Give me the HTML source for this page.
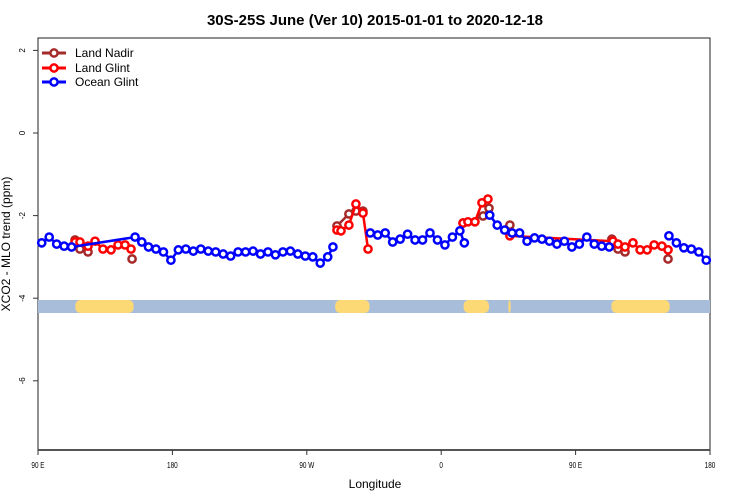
<!DOCTYPE html>
<html><head><meta charset="utf-8"><style>
html,body{margin:0;padding:0;background:#fff;}
svg{display:block;font-family:"Liberation Sans",sans-serif;}
</style></head><body>
<svg id="chart" width="750" height="500" viewBox="0 0 750 500">
<text x="375" y="25" text-anchor="middle" font-size="15" font-weight="bold">30S-25S June (Ver 10)   2015-01-01 to 2020-12-18</text>
<rect x="38" y="38" width="672" height="412" fill="none" stroke="#222" stroke-width="1"/>
<g id="surface"></g>
<g id="axes"></g>
<g id="series"></g>
<text x="375" y="488" text-anchor="middle" font-size="12">Longitude</text>
<text transform="translate(10,244) rotate(-90)" text-anchor="middle" font-size="12">XCO2 - MLO trend (ppm)</text>
<g>
 <g><line x1="42" y1="53" x2="66" y2="53" stroke="#a52a2a" stroke-width="3"/><circle cx="54" cy="53" r="3.6" fill="#fff" stroke="#a52a2a" stroke-width="2.5"/><text x="75" y="57" font-size="12">Land Nadir</text></g>
 <g><line x1="42" y1="68" x2="66" y2="68" stroke="#ff0000" stroke-width="3"/><circle cx="54" cy="68" r="3.6" fill="#fff" stroke="#ff0000" stroke-width="2.5"/><text x="75" y="72" font-size="12">Land Glint</text></g>
 <g><line x1="42" y1="82" x2="66" y2="82" stroke="#0000ff" stroke-width="3"/><circle cx="54" cy="82" r="3.6" fill="#fff" stroke="#0000ff" stroke-width="2.5"/><text x="75" y="86" font-size="12">Ocean Glint</text></g>
</g>
</svg>
<script>
// data
const xTickLons = [90, 180, 270, 360, 450, 540];
const xTickLabels = ["90 E", "180", "90 W", "0", "90 E", "180"];
const yTicks = [2, 0, -2, -4, -6];
const oceanLon = [92.5,97.5,102.5,107.5,112.5,155,159.5,164,169,174,179,184,189,194,199,204,209,214,219,224,229,234,239,244,249,254,259,264,269,274,279,284,287.5,312.5,317.5,322.5,327.5,332.5,337.5,342.5,347.5,352.5,357.5,362.5,367.5,372.5,375.5,392.5,397.5,402.5,407.5,412.5,417.5,422.5,427.5,432.5,437.5,442.5,447.5,452.5,457.5,462.5,467.5,472.5,512.5,517.5,522.5,527.5,532.5,537.5];
const oceanVal = [-2.66,-2.52,-2.69,-2.74,-2.76,-2.52,-2.64,-2.76,-2.81,-2.88,-3.08,-2.83,-2.81,-2.86,-2.81,-2.86,-2.88,-2.93,-2.98,-2.88,-2.88,-2.86,-2.93,-2.88,-2.95,-2.88,-2.86,-2.93,-2.98,-3.00,-3.15,-3.00,-2.76,-2.42,-2.47,-2.42,-2.64,-2.57,-2.45,-2.59,-2.59,-2.42,-2.59,-2.71,-2.52,-2.37,-2.66,-1.99,-2.23,-2.35,-2.42,-2.42,-2.62,-2.54,-2.57,-2.62,-2.69,-2.62,-2.76,-2.69,-2.52,-2.69,-2.74,-2.76,-2.49,-2.66,-2.78,-2.81,-2.88,-3.08];
const oceanBreaks = [300, 384, 490];
const glintLon = [114.8,118.1,123.5,128.2,133.5,138.9,143.6,148.3,152.3, 290.2,292.9,298.2,302.9,307.6,311.0, 374.6,377.9,382.6,387.3,391.3,406.0, 475.0,478.4,483.1,488.4,493.2,497.9,502.6,507.8,511.9];
const glintVal = [-2.64,-2.64,-2.74,-2.62,-2.81,-2.83,-2.71,-2.71,-2.81, -2.35,-2.37,-2.23,-1.72,-1.94,-2.81, -2.18,-2.15,-2.15,-1.69,-1.60,-2.49, -2.62,-2.69,-2.76,-2.66,-2.83,-2.83,-2.71,-2.74,-2.83];
const glintBreaks = [200, 340, 400];
const nadirLon = [114.8,118.1,123.5,153.0, 290.2,298.2,302.9,307.6, 374.6,388.0,392.0,406.0, 474.3,478.4,483.1,511.9];
const nadirVal = [-2.59,-2.81,-2.88,-3.05, -2.25,-1.96,-1.89,-1.89, -2.18,-2.01,-1.82,-2.23, -2.57,-2.81,-2.88,-3.05];
const nadirBreaks = [140, 200, 340, 400, 450, 500];
const landSegments = [[115, 154], [289, 312], [375, 392], [405, 406.5], [474, 513]];

const X0 = 38, X1 = 710, LON0 = 90, LON1 = 540;
const xs = lon => X0 + (lon - LON0) * (X1 - X0) / (LON1 - LON0);
const ys = v => 133 - v * 41.3;
const NS = "http://www.w3.org/2000/svg";
function mk(tag, attrs, parent) {
  const e = document.createElementNS(NS, tag);
  for (const k in attrs) e.setAttribute(k, attrs[k]);
  parent.appendChild(e);
  return e;
}
const axes = document.getElementById('axes');
const bl = mk('line', {x1: X0, y1: 450, x2: X1, y2: 450, stroke: '#555', 'stroke-width': 2}, axes);


xTickLons.forEach((lon, i) => {
  const t = mk('line', {x1: xs(lon), y1: 450, x2: xs(lon), y2: 455, stroke: '#333'}, axes);
  
  
  const l = mk('text', {x: xs(lon), y: 468, 'text-anchor': 'middle', 'font-size': 8, transform: `translate(${xs(lon)},0) scale(0.8,1) translate(${-xs(lon)},0)`}, axes);
  l.textContent = xTickLabels[i];
  
  
});
yTicks.forEach(v => {
  const t = mk('line', {x1: 33, y1: ys(v), x2: X0, y2: ys(v), stroke: '#333'}, axes);
  
  
  const l = mk('text', {x: 0, y: 0, 'text-anchor': 'middle', 'font-size': 8, transform: `translate(25,${ys(v)}) rotate(-90)`}, axes);
  l.textContent = String(v);
  
  
});
const surf = document.getElementById('surface');
const sb = mk('rect', {x: X0, y: 300, width: X1 - X0, height: 13, fill: '#a7bdd9'}, surf);


landSegments.forEach(s => {
  const r = mk('rect', {x: xs(s[0]), y: 300, width: xs(s[1]) - xs(s[0]), height: 13, rx: 5, fill: '#fdd976'}, surf);
  
  
});
const ser = document.getElementById('series');
function drawSeries(lons, vals, breaks, color, name) {
  const g = mk('g', {}, ser);
  
  
  for (let i = 1; i < lons.length; i++) {
    if (breaks.some(b => lons[i - 1] < b && lons[i] > b)) continue;
    const ln = mk('line', {x1: xs(lons[i - 1]), y1: ys(vals[i - 1]), x2: xs(lons[i]), y2: ys(vals[i]), stroke: color, 'stroke-width': 2.5}, g);
    
    
  }
  for (let i = 0; i < lons.length; i++) {
    const c = mk('circle', {cx: xs(lons[i]), cy: ys(vals[i]), r: 3.6, fill: '#fff', stroke: color, 'stroke-width': 2.5}, g);
    
    
  }
}
drawSeries(nadirLon, nadirVal, nadirBreaks, '#a52a2a', 'land-nadir');
drawSeries(glintLon, glintVal, glintBreaks, '#ff0000', 'land-glint');
drawSeries(oceanLon, oceanVal, oceanBreaks, '#0000ff', 'ocean-glint');
</script>
</body></html>
